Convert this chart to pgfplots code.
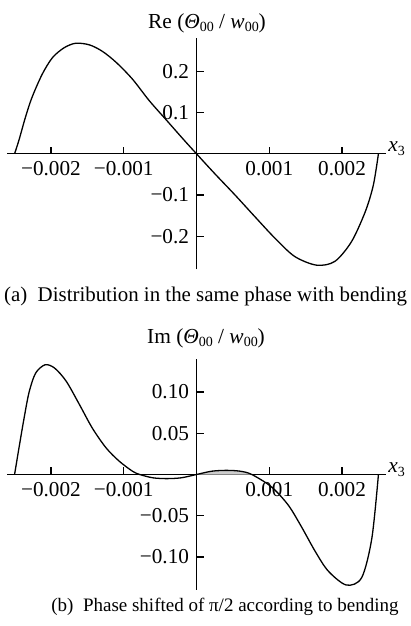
\documentclass[border=0pt]{standalone}
\usepackage{fontspec}
\setmainfont{Liberation Serif}
\usepackage{pgfplots}
\pgfplotsset{compat=1.18}

\pgfplotsset{
  panel/.style={
    width=189.2pt, height=115.5pt, scale only axis,
    anchor=south west,
    axis lines=middle,
    axis line style={line width=0.7pt, -},
    every inner x axis line/.append style={-},
    every inner y axis line/.append style={-},
    xmin=-0.0026, xmax=0.0026,
    scaled ticks=false,
    xtick={-0.002,-0.001,0.001,0.002},
    xticklabels={−0.002,−0.001,0.001,0.002},
    tick align=inside, major tick length=3.5pt,
    tick style={line width=0.6pt, black},
    ticklabel style={font=\fontsize{10.6}{13}\selectfont},
    clip=false,
  },
  curve/.style={black, line width=0.65pt, smooth, tension=0.5},
}
\newcommand{\ratio}{(\textit{Θ}\raisebox{-0.35ex}{\scriptsize 00} / \textit{w}\raisebox{-0.35ex}{\scriptsize 00})}

\begin{document}
\fontsize{10.7}{13}\selectfont
\begin{tikzpicture}
\useasboundingbox (0,0) rectangle (205.5pt,313pt);

% (a) in-phase part
\begin{axis}[panel, at={(3.65pt,178.35pt)},
  ymin=-0.28, ymax=0.28,
  ytick={-0.2,-0.1,0.1,0.2},
  yticklabels={−0.2,−0.1,0.1,0.2}]
\addplot[curve] coordinates {
(-0.00250,0) (-0.00244,0.033) (-0.00235,0.089) (-0.00226,0.137)
(-0.00212,0.193) (-0.00198,0.233) (-0.00182,0.257) (-0.00166,0.268)
(-0.00147,0.264) (-0.00129,0.248) (-0.00110,0.221) (-0.00088,0.181)
(-0.00065,0.129) (-0.00041,0.081) (-0.00018,0.035) (0,0)
(0.00025,-0.048) (0.00053,-0.100) (0.00080,-0.152) (0.00108,-0.205)
(0.00135,-0.249) (0.00165,-0.270) (0.00190,-0.261) (0.00213,-0.213)
(0.00232,-0.140) (0.00243,-0.076) (0.00250,0)};
\node[anchor=west, inner sep=0pt] at (axis cs:0.00263,0.012) {\textit{x}\raisebox{-0.4ex}{\scriptsize 3}};
\end{axis}

% (b) quadrature part
\begin{axis}[panel, at={(3.65pt,18pt)},
  ymin=-0.14, ymax=0.14,
  ytick={-0.10,-0.05,0.05,0.10},
  yticklabels={−0.10,−0.05,0.05,0.10}]
\addplot[fill=gray!40, draw=none, smooth] coordinates {
(0,0) (0.00021,0.0035) (0.00041,0.0048) (0.00060,0.0035) (0.00076,0)} -- cycle;
\addplot[curve] coordinates {
(-0.00250,0) (-0.00244,0.032) (-0.00237,0.068) (-0.00230,0.100)
(-0.00221,0.123) (-0.00208,0.133) (-0.00195,0.129) (-0.00179,0.113)
(-0.00161,0.085) (-0.00143,0.056) (-0.00124,0.032) (-0.00106,0.016)
(-0.00088,0.004) (-0.00078,0) (-0.00060,-0.004) (-0.00041,-0.005)
(-0.00021,-0.004) (0,0)
(0.00021,0.004) (0.00041,0.005) (0.00060,0.004) (0.00076,0)
(0.00103,-0.015) (0.00126,-0.037) (0.00144,-0.063) (0.00163,-0.093)
(0.00181,-0.117) (0.00206,-0.134) (0.00227,-0.125) (0.00241,-0.077)
(0.00250,0)};
\node[anchor=west, inner sep=0pt] at (axis cs:0.00263,0.006) {\textit{x}\raisebox{-0.4ex}{\scriptsize 3}};
\end{axis}

\node at (103.5pt,301.5pt) {Re \ratio};
\node at (103pt,144pt) {Im \ratio};
\node[font=\fontsize{10.45}{13}\selectfont] at (102.75pt,164.5pt) {(a)\ \ Distribution in the same phase with bending};
\node[font=\fontsize{9.5}{12}\selectfont] at (112.5pt,9.5pt) {(b)\ \ Phase shifted of π/2 according to bending};
\end{tikzpicture}
\end{document}
